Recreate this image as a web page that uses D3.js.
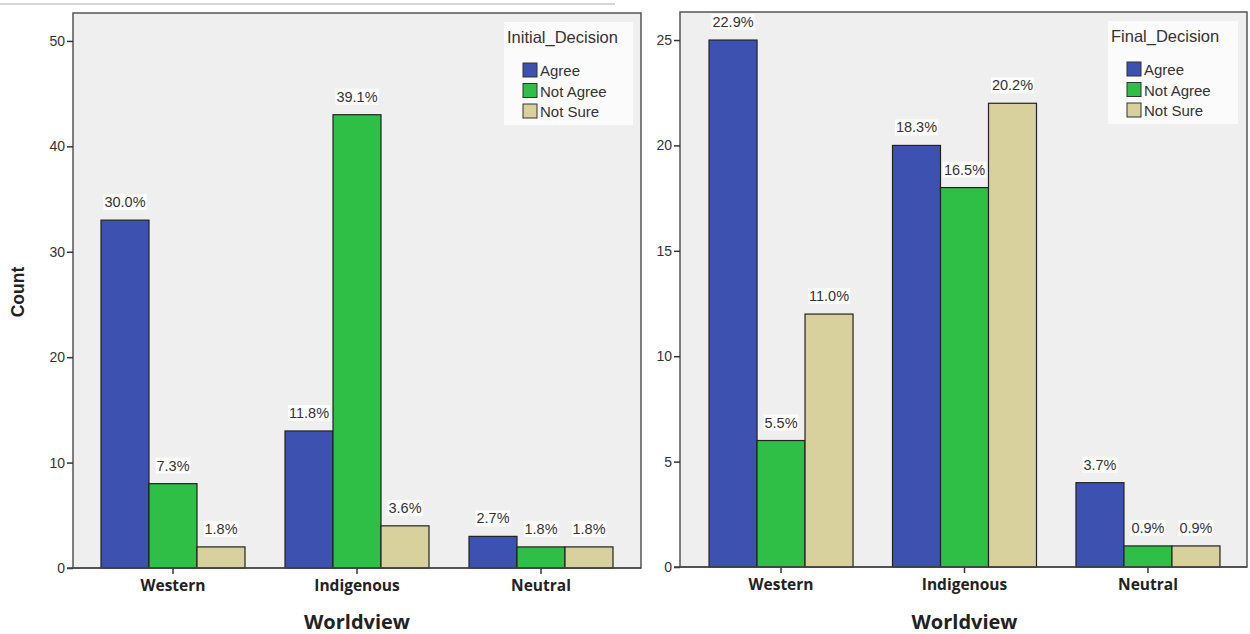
<!DOCTYPE html>
<html>
<head>
<meta charset="utf-8">
<script src="https://cdn.jsdelivr.net/npm/d3@7"></script>
<style>
  body { margin: 0; background: #fff; }
  svg { display: block; }
  .tick text { font-family: "Liberation Sans", Arial, sans-serif; font-size: 14px; fill: #333; }
  .cat text { font-family: "Open Sans", "DejaVu Sans", sans-serif; font-size: 15.5px; font-weight: bold; fill: #222; }
</style>
</head>
<body>
<svg id="graph" width="1250" height="634"></svg>
<script>
var worldviews = ['Western', 'Indigenous', 'Neutral'];
var decisions = ['Agree', 'Not Agree', 'Not Sure'];
var decisionColors = ['#3d51b0', '#2fbf47', '#d8d19d'];

// Initial_Decision counts, one array per decision, in worldview order
var initialAgree = [33, 13, 3];
var initialNotAgree = [8, 43, 2];
var initialNotSure = [2, 4, 2];
var initialPct = [['30.0%', '11.8%', '2.7%'], ['7.3%', '39.1%', '1.8%'], ['1.8%', '3.6%', '1.8%']];
var initialTicks = [0, 10, 20, 30, 40, 50];

// Final_Decision counts
var finalAgree = [25, 20, 4];
var finalNotAgree = [6, 18, 1];
var finalNotSure = [12, 22, 1];
var finalPct = [['22.9%', '18.3%', '3.7%'], ['5.5%', '16.5%', '0.9%'], ['11.0%', '20.2%', '0.9%']];
var finalTicks = [0, 5, 10, 15, 20, 25];

var chart = {
  svg: d3.select('#graph'),

  drawPanel: function (opt) {
    var svg = chart.svg;
    var y = d3.scaleLinear().domain([0, opt.yTop]).range([opt.bottom, opt.top]);
    var x = d3.scaleBand().domain(worldviews).range(opt.xRange).paddingInner(0).paddingOuter(0);
    var xs = d3.scaleBand().domain(decisions).range([-72, 72]);
    var series = [opt.agree, opt.notAgree, opt.notSure];

    // plot background + frame
    svg.append('rect')
      .attr('x', opt.left).attr('y', opt.top)
      .attr('width', opt.right - opt.left).attr('height', opt.bottom - opt.top)
      .attr('fill', '#efefef')
      .attr('stroke', '#555').attr('stroke-width', 1.5);

    // legend box
    var lg = svg.append('g').attr('transform', 'translate(' + opt.legendX + ',' + (opt.top + 9) + ')');
    lg.append('rect').attr('x', 0).attr('y', 0).attr('width', opt.legendW).attr('height', 103)
      .attr('fill', '#fbfbfb');
    lg.append('text').attr('x', 3).attr('y', 21)
      .attr('font-family', '"Liberation Sans", Arial, sans-serif').attr('font-size', 16.5).attr('fill', '#333')
      .text(opt.legendTitle);
    decisions.forEach(function (d, i) {
      lg.append('rect').attr('x', 19).attr('y', 41 + i * 20.5).attr('width', 14).attr('height', 14)
        .attr('fill', decisionColors[i]).attr('stroke', '#333').attr('stroke-width', 1);
      lg.append('text').attr('x', 36).attr('y', 54 + i * 20.5)
        .attr('font-family', '"Liberation Sans", Arial, sans-serif').attr('font-size', 15).attr('fill', '#333')
        .text(d);
    });

    // bars
    series.forEach(function (vals, si) {
      svg.selectAll(null).data(vals).enter().append('rect')
        .attr('x', function (d, i) { return x(worldviews[i]) + x.bandwidth() / 2 + xs(decisions[si]); })
        .attr('y', function (d) { return y(d); })
        .attr('width', xs.bandwidth())
        .attr('height', function (d) { return y(0) - y(d); })
        .attr('fill', decisionColors[si])
        .attr('stroke', '#222').attr('stroke-width', 1.2);
    });

    // percentage labels, white box sized to the text
    series.forEach(function (vals, si) {
      vals.forEach(function (v, i) {
        var cx = x(worldviews[i]) + x.bandwidth() / 2 + xs(decisions[si]) + xs.bandwidth() / 2;
        var g = svg.append('g').attr('transform', 'translate(' + cx + ',' + (y(v) - 13) + ')');
        var bg = g.append('rect').attr('fill', '#fff').attr('opacity', 0.85);
        var t = g.append('text').attr('text-anchor', 'middle')
          .attr('font-family', '"Liberation Sans", Arial, sans-serif').attr('font-size', 14.5).attr('fill', '#333')
          .text(opt.pct[si][i]);
        var bb = t.node().getBBox();
        bg.attr('x', bb.x - 1).attr('y', bb.y).attr('width', bb.width + 2).attr('height', bb.height);
      });
    });

    // y axis
    var yAxis = d3.axisLeft(y).tickValues(opt.ticks).tickSize(6).tickPadding(2);
    var ya = svg.append('g').attr('transform', 'translate(' + opt.left + ',0)').call(yAxis);
    ya.select('.domain').remove();
    ya.selectAll('line').attr('stroke', '#333').attr('stroke-width', 1.5);

    // x axis
    var xAxis = d3.axisBottom(x).tickSize(6).tickPadding(4);
    var xa = svg.append('g').attr('class', 'cat').attr('transform', 'translate(0,' + opt.bottom + ')').call(xAxis);
    xa.select('.domain').remove();
    xa.selectAll('line').attr('stroke', '#333').attr('stroke-width', 1.5);
    xa.selectAll('text').attr('dy', '0.85em');
    svg.append('line').attr('x1', opt.left - 6).attr('x2', opt.right)
      .attr('y1', opt.bottom).attr('y2', opt.bottom).attr('stroke', '#444').attr('stroke-width', 1.5);

    // x title
    svg.append('text')
      .attr('x', (opt.xRange[0] + opt.xRange[1]) / 2).attr('y', 629)
      .attr('text-anchor', 'middle')
      .attr('font-family', '"Open Sans", "DejaVu Sans", sans-serif').attr('font-size', 20).attr('font-weight', 'bold').attr('fill', '#222')
      .text('Worldview');
  }
};

// faint line across the top of the screenshot
chart.svg.append('line').attr('x1', 0).attr('x2', 615).attr('y1', 4).attr('y2', 4)
  .attr('stroke', '#c8c8c8').attr('stroke-width', 1.5);

chart.drawPanel({
  left: 73, right: 641, top: 13, bottom: 568, yTop: 52.65, xRange: [81, 633],
  agree: initialAgree, notAgree: initialNotAgree, notSure: initialNotSure, pct: initialPct,
  ticks: initialTicks, legendTitle: 'Initial_Decision', legendX: 504, legendW: 129
});

chart.drawPanel({
  left: 680, right: 1247, top: 12, bottom: 567, yTop: 26.33, xRange: [689.3, 1239.7],
  agree: finalAgree, notAgree: finalNotAgree, notSure: finalNotSure, pct: finalPct,
  ticks: finalTicks, legendTitle: 'Final_Decision', legendX: 1108, legendW: 130
});

// y title
chart.svg.append('text')
  .attr('transform', 'translate(24,292) rotate(-90)')
  .attr('text-anchor', 'middle')
  .attr('font-family', '"Liberation Sans", Arial, sans-serif').attr('font-size', 17.5).attr('font-weight', 'bold').attr('fill', '#222')
  .text('Count');
</script>
</body>
</html>
